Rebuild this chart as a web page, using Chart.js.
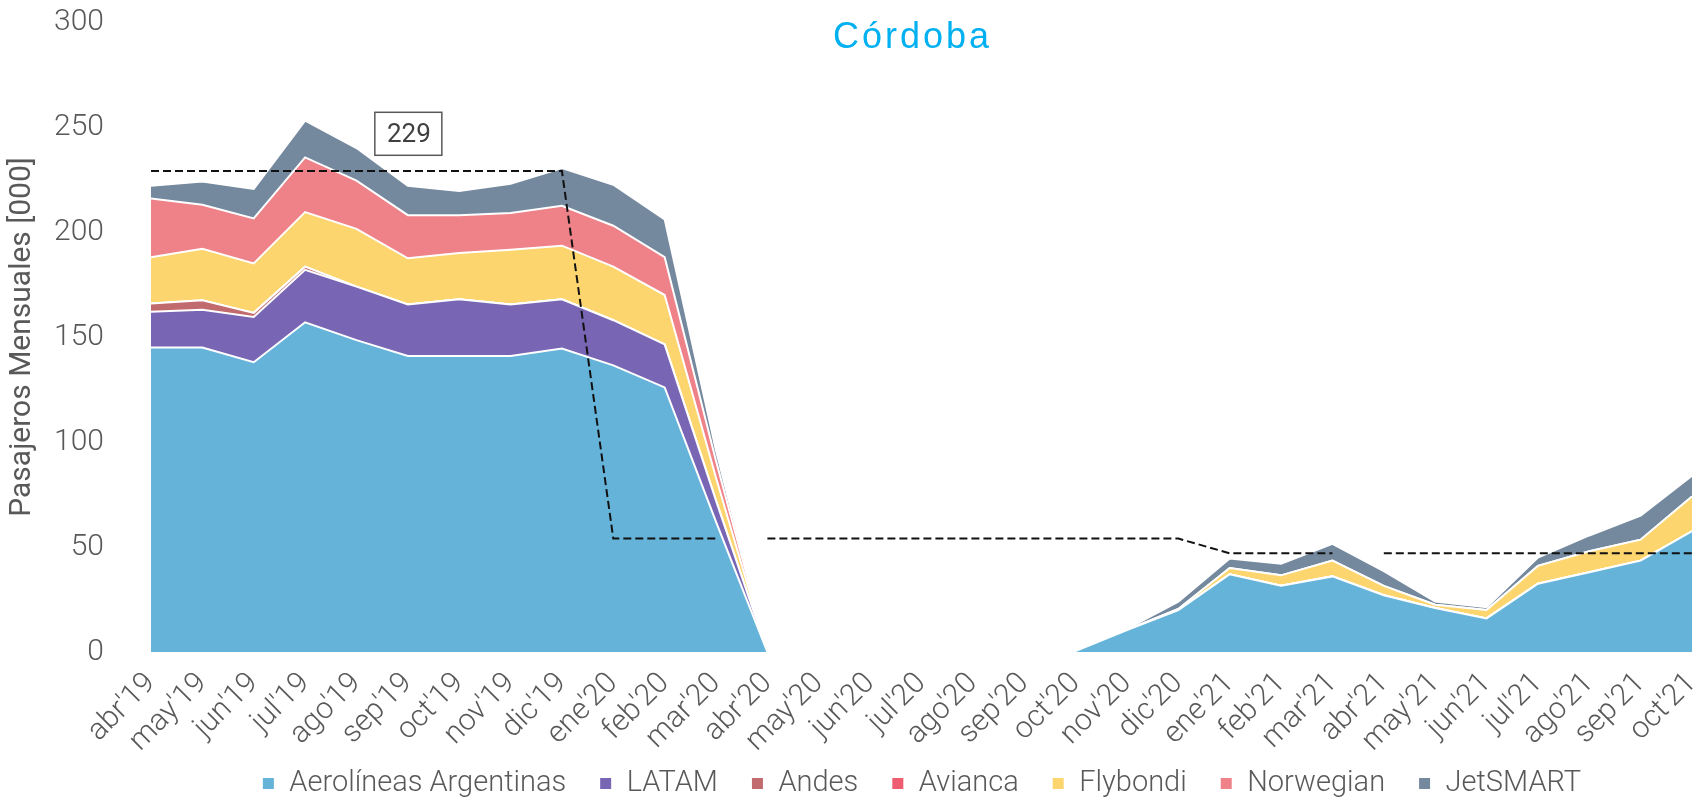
<!DOCTYPE html>
<html>
<head>
<meta charset="utf-8">
<script src="https://cdn.jsdelivr.net/npm/chart.js@4"></script>
<style>
  html, body { margin: 0; padding: 0; background: #fff; }
  #wrap { width: 1695px; height: 798px; }
</style>
</head>
<body>
<div id="wrap"><canvas id="chart"></canvas></div>
<script>
const months = ["abr'19", "may'19", "jun'19", "jul'19", "ago'19", "sep'19", "oct'19", "nov'19", "dic'19",
    "ene'20", "feb'20", "mar'20", "abr'20", "may'20", "jun'20", "jul'20", "ago'20", "sep'20", "oct'20",
    "nov'20", "dic'20", "ene'21", "feb'21", "mar'21", "abr'21", "may'21", "jun'21", "jul'21", "ago'21",
    "sep'21", "oct'21"];

const aerolineas = [145, 145, 138, 157, 148.5, 141, 141, 141, 144.5, 136.5, 126, 62, 0, 0, 0, 0, 0, 0, 0.5, 10.5, 20, 37, 31.5, 36, 27, 21, 16, 32.5, 38, 43.5, 57.5];
const latam = [17, 18, 21.5, 25, 25.5, 24.5, 27, 24.5, 23.5, 21.5, 20.5, 10, 0, 0, 0, 0, 0, 0, 0, 0, 0, 0, 0, 0, 0, 0, 0, 0, 0, 0, 0];
const andes = [4, 4.5, 2, 1.5, 0, 0, 0, 0, 0, 0, 0, 0, 0, 0, 0, 0, 0, 0, 0, 0, 0, 0, 0, 0, 0, 0, 0, 0, 0, 0, 0];
const avianca = [0, 0, 0, 0, 0, 0, 0, 0, 0, 0, 0, 0, 0, 0, 0, 0, 0, 0, 0, 0, 0, 0, 0, 0, 0, 0, 0, 0, 0, 0, 0];
const flybondi = [22, 24.5, 23.5, 26, 27.5, 22, 22, 26, 25.5, 25.5, 23.5, 11, 0, 0, 0, 0, 0, 0, 0, 0, 0.5, 3, 5, 7.5, 4.5, 1.5, 4, 8.5, 10, 10, 16.5];
const norwegian = [28, 21, 21.5, 26, 23, 20.5, 18, 17.5, 19, 19.5, 18, 8, 0, 0, 0, 0, 0, 0, 0, 0, 0, 0, 0, 0, 0, 0, 0, 0, 0, 0, 0];
const jetsmart = [6, 11, 14, 17.5, 15.5, 14, 11.5, 14, 18, 19.5, 18, 5, 0, 0, 0, 0, 0, 0, 0, 0.5, 3.5, 4.5, 5.5, 8, 7, 1.5, 1.3, 4, 7.5, 11.5, 10];

// linea de referencia (punteada), cortada entre mar y abr
const refLine = [229, 229, 229, 229, 229, 229, 229, 229, 229, 54, 54, 54, 54, 54, 54, 54, 54, 54, 54, 54, 54, 47, 47, 47, 47, 47, 47, 47, 47, 47, 47];
const refBreaks = [12, 24];
const refLabelIndex = 5;
const refLabelValue = 247;

const yTicks = [0, 50, 100, 150, 200, 250, 300];

const series = [
    { label: 'Aerolíneas Argentinas', data: aerolineas, color: '#66b3da' },
    { label: 'LATAM', data: latam, color: '#7866b5' },
    { label: 'Andes', data: andes, color: '#c26b6e' },
    { label: 'Avianca', data: avianca, color: '#ee5d70' },
    { label: 'Flybondi', data: flybondi, color: '#fdd56f' },
    { label: 'Norwegian', data: norwegian, color: '#ef8189' },
    { label: 'JetSMART', data: jetsmart, color: '#74889e' }
];

const grey = '#595959';

const titlePlugin = {
    id: 'cordobaTitle',
    afterDraw(chart) {
        const ctx = chart.ctx;
        const area = chart.chartArea;
        ctx.save();
        ctx.font = '36px "Liberation Sans", Arial, sans-serif';
        ctx.fillStyle = '#00b0f0';
        ctx.letterSpacing = '3px';
        ctx.textAlign = 'center';
        ctx.textBaseline = 'alphabetic';
        ctx.fillText('Córdoba', (area.left + area.right) / 2 - 9, 48);
        ctx.restore();
    }
};

const boxLabelPlugin = {
    id: 'refBoxLabel',
    afterDatasetsDraw(chart) {
        const ctx = chart.ctx;
        const x = chart.scales.x.getPixelForValue(refLabelIndex);
        const y = chart.scales.y.getPixelForValue(refLabelValue);
        ctx.save();
        ctx.fillStyle = '#fff';
        ctx.fillRect(x - 33, y - 21, 67, 43);
        ctx.strokeStyle = grey;
        ctx.lineWidth = 1.5;
        ctx.strokeRect(x - 33, y - 21, 67, 43);
        ctx.font = '400 26px Roboto';
        ctx.fillStyle = '#404040';
        ctx.textAlign = 'center';
        ctx.textBaseline = 'middle';
        ctx.fillText(String(refLine[0]), x + 1, y + 2);
        ctx.restore();
    }
};

// legend: keep the wide horizontal spacing but a short box, centred on the plot
const legendPlugin = {
    id: 'legendTweak',
    beforeInit(chart) {
        const fit = chart.legend.fit;
        chart.legend.fit = function () {
            fit.call(this);
            this.height = 41;
        };
    },
    afterLayout(chart) {
        const legend = chart.legend;
        legend.left = chart.chartArea.left;
        legend.right = chart.chartArea.right;
        legend.top = chart.height - 62;
        legend.bottom = chart.height;
    }
};

const datasets = [{
    label: '',
    type: 'line',
    data: refLine,
    stack: 'ref',
    order: 0,
    fill: false,
    borderColor: '#111',
    borderWidth: 2,
    borderDash: [8, 4],
    pointRadius: 0,
    segment: {
        borderColor: ctx => refBreaks.includes(ctx.p1DataIndex) ? 'rgba(0,0,0,0)' : '#111'
    }
}];

series.forEach((s, i) => {
    datasets.push({
        label: s.label,
        data: s.data,
        stack: 'airlines',
        order: 1,
        fill: i === 0 ? 'origin' : '-1',
        backgroundColor: s.color,
        borderColor: '#ffffff',
        borderWidth: 2,
        pointRadius: 0,
        tension: 0
    });
});

new Chart(document.getElementById('chart'), {
    type: 'line',
    data: { labels: months, datasets: datasets },
    plugins: [titlePlugin, boxLabelPlugin, legendPlugin],
    options: {
        responsive: true,
        maintainAspectRatio: false,
        animation: false,
        layout: { padding: 0 },
        scales: {
            x: {
                offset: false,
                grid: { display: false, drawTicks: false },
                border: { display: false },
                ticks: {
                    color: grey,
                    font: { family: 'Roboto', size: 30, weight: 300 },
                    maxRotation: 45,
                    minRotation: 45,
                    autoSkip: false,
                    padding: 14
                },
                afterFit: axis => {
                    axis.height = 105;
                    axis.paddingRight = 3;
                }
            },
            y: {
                stacked: true,
                min: 0,
                max: 300,
                grid: { display: false, drawTicks: false },
                border: { display: false },
                afterBuildTicks: axis => { axis.ticks = yTicks.map(v => ({ value: v })); },
                afterFit: axis => {
                    axis.width = 151;
                    axis.paddingTop = 22;
                    axis.paddingBottom = 0;
                },
                ticks: {
                    color: grey,
                    font: { family: 'Roboto', size: 30, weight: 300 },
                    padding: 47
                },
                title: {
                    display: true,
                    text: 'Pasajeros Mensuales [000]',
                    color: grey,
                    font: { family: 'Roboto', size: 30, weight: 400 },
                    padding: { top: 4, bottom: 8 }
                }
            }
        },
        plugins: {
            legend: {
                position: 'bottom',
                labels: {
                    filter: item => item.text !== '',
                    color: grey,
                    font: { family: 'Roboto', size: 29, weight: 300 },
                    boxWidth: 13,
                    boxHeight: 13,
                    padding: 33
                }
            },
            tooltip: { enabled: false }
        }
    }
});
</script>
</body>
</html>
